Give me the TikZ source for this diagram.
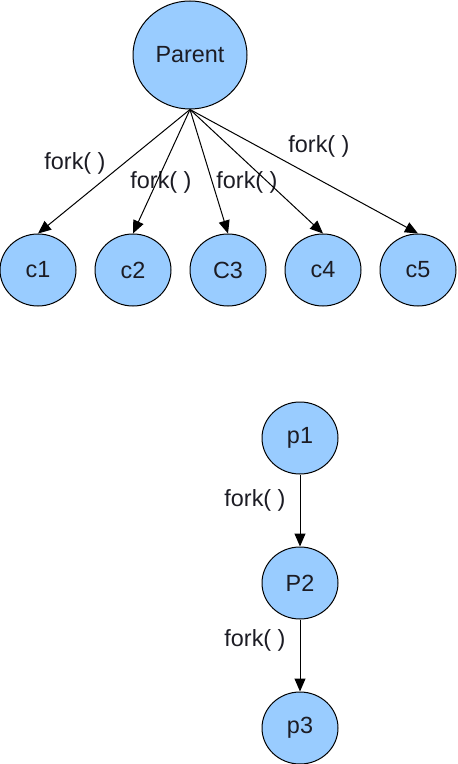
\documentclass[tikz,border=0pt]{standalone}
\usepackage{fontspec}
\setmainfont{Liberation Sans}
\usetikzlibrary{arrows.meta,positioning,shapes.geometric}
\definecolor{procblue}{HTML}{99CCFF}
\definecolor{txtgray}{HTML}{1C1C24}

\begin{document}
\begin{tikzpicture}[
  x=0.5pt,y=-0.5pt,
  font=\fontsize{11.7}{14}\selectfont,
  proc/.style={draw,ellipse,fill=procblue,text=txtgray,line width=0.5pt,
               inner sep=0pt,minimum width=38pt,minimum height=36pt},
  lbl/.style={text=txtgray,inner sep=0pt},
  ar/.style={-{Triangle[length=6.5pt,width=5.5pt]},line width=0.5pt}]
\useasboundingbox (0,0) rectangle (457,764);
\node[proc,minimum width=57pt,minimum height=54pt] (par) at (190,55) {Parent};
\node[proc] (c1) at (38,270) {c1};
\node[proc,right=9pt of c1] (c2) {c2};
\node[proc,right=9pt of c2] (c3) {C3};
\node[proc,right=9pt of c3] (c4) {c4};
\node[proc,right=9pt of c4] (c5) {c5};
\node[lbl] (f1) at (75,163) {fork( )};
\node[lbl] (f2) at (161,182) {fork( )};
\node[lbl] (f3) at (247,182) {fork( )};
\node[lbl] (f5) at (319,146) {fork( )};
\draw[ar] (par.south)--(c1.north); \draw[ar] (par.south)--(c2.north);
\draw[ar] (par.south)--(c3.north); \draw[ar] (par.south)--(c4.north);
\draw[ar] (par.south)--(c5.north);
\node[proc] (p1) at (300,438) {p1};
\node[proc,below=36pt of p1] (p2) {P2};
\node[proc,below=36pt of p2] (p3) {p3};
\node[lbl] (f6) at (255,500) {fork( )};
\node[lbl] (f7) at (255,640) {fork( )};
\draw[ar] (p1)--(p2); \draw[ar] (p2)--(p3);
\end{tikzpicture}
\end{document}
